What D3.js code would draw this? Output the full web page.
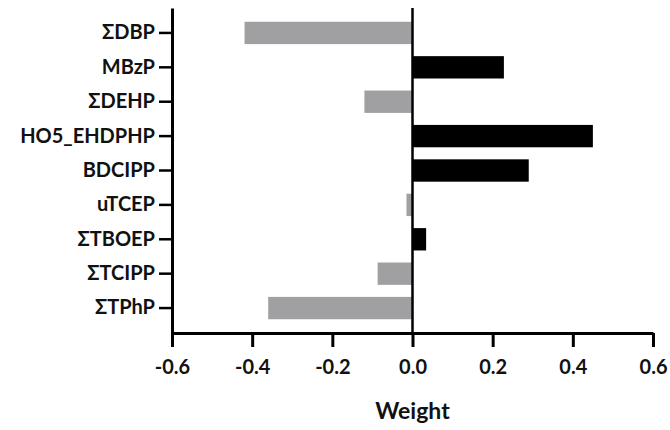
<!DOCTYPE html>
<html lang="en">
<head>
<meta charset="UTF-8">
<title>Weight chart</title>
<script src="https://d3js.org/d3.v7.min.js"></script>
<style>
  body { margin: 0; background: #fff; font-family: 'Lato', sans-serif; }
  .axis text { font-family: 'Lato', sans-serif; font-weight: bold; font-size: 20px; fill: #111; }
</style>
</head>
<body>
<script>
  // categories top to bottom and their weights
  const compounds = ["ΣDBP", "MBzP", "ΣDEHP", "HO5_EHDPHP", "BDCIPP", "uTCEP", "ΣTBOEP", "ΣTCIPP", "ΣTPhP"];
  const weights = [-0.419, 0.228, -0.12, 0.45, 0.29, -0.015, 0.034, -0.087, -0.36];
  const xTicks = [-0.6, -0.4, -0.2, 0.0, 0.2, 0.4, 0.6];

  const width = 670, height = 430;
  const plotLeft = 172, plotRight = 653, plotTop = 8, plotBottom = 333;

  const svg = d3.select("body").append("svg")
    .attr("width", width)
    .attr("height", height);

  const x = d3.scaleLinear().domain([-0.6, 0.6]).range([plotLeft, plotRight]);
  const y = d3.scaleBand().domain(compounds).range([plotTop, plotBottom])
    .paddingInner(0.35).paddingOuter(0.4);

  // bars: negatives grey, positives black
  svg.selectAll("rect.bar")
    .data(compounds.map((c, i) => ({ c, v: weights[i] })))
    .join("rect")
    .attr("class", "bar")
    .attr("x", d => x(Math.min(0, d.v)))
    .attr("width", d => Math.abs(x(d.v) - x(0)))
    .attr("y", d => y(d.c))
    .attr("height", y.bandwidth())
    .attr("fill", d => d.v < 0 ? "#a0a0a2" : "#000");

  // zero line
  svg.append("line")
    .attr("x1", x(0)).attr("x2", x(0))
    .attr("y1", plotTop).attr("y2", plotBottom)
    .attr("stroke", "#000").attr("stroke-width", 2.5);

  // x axis, plain hyphen for the minus sign
  const fmt = d => d3.format(".1f")(d).replace("−", "-");
  const xAxis = svg.append("g")
    .attr("class", "axis")
    .attr("transform", `translate(0,${plotBottom})`)
    .call(d3.axisBottom(x).tickValues(xTicks).tickFormat(fmt).tickSize(14).tickPadding(13).tickSizeOuter(0));
  xAxis.select(".domain").attr("stroke-width", 3);
  xAxis.selectAll(".tick line").attr("stroke-width", 3);

  // y axis
  const yAxis = svg.append("g")
    .attr("class", "axis")
    .attr("transform", `translate(${plotLeft},0)`)
    .call(d3.axisLeft(y).tickSize(13).tickPadding(4).tickSizeOuter(0));
  yAxis.select(".domain").attr("stroke-width", 3);
  yAxis.selectAll(".tick line").attr("stroke-width", 2.5);

  svg.append("text")
    .attr("x", x(0))
    .attr("y", 419)
    .attr("text-anchor", "middle")
    .style("font-family", "Lato, sans-serif")
    .style("font-weight", "bold")
    .style("font-size", "23px")
    .attr("fill", "#111")
    .text("Weight");
</script>
</body>
</html>
